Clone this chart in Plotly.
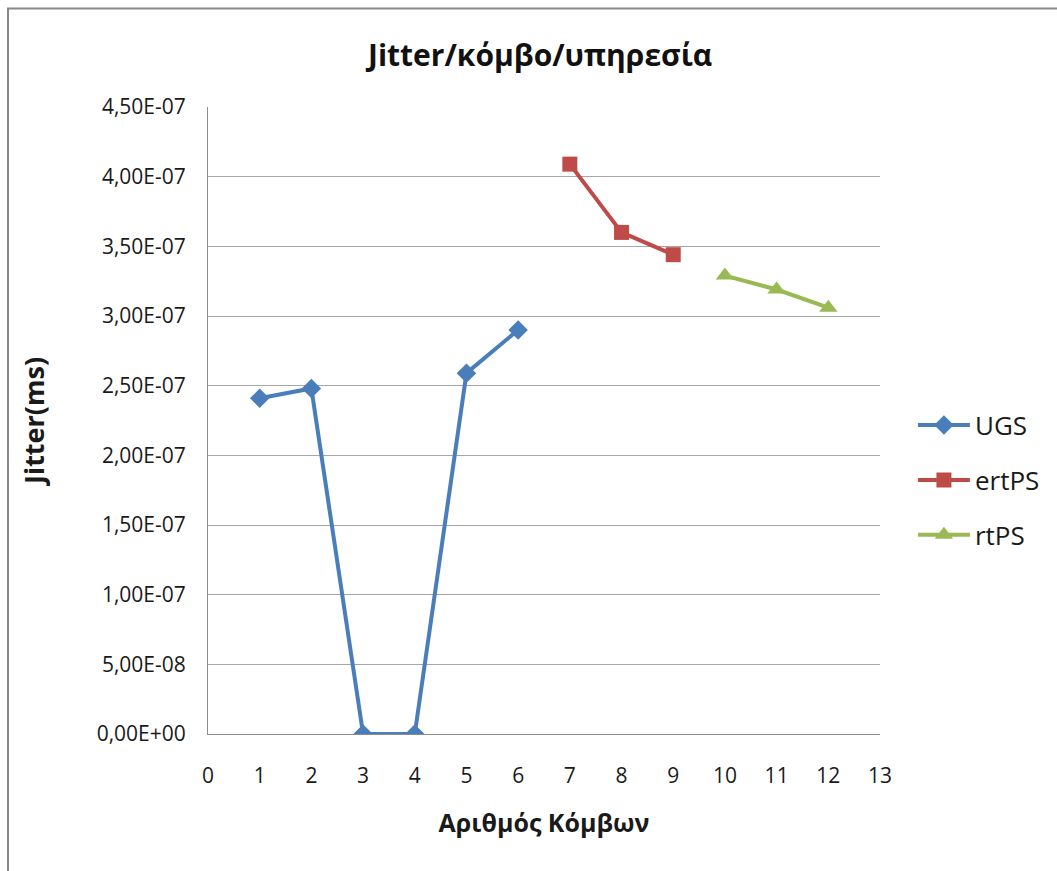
import plotly.graph_objects as go

ugs_x = [1, 2, 3, 4, 5, 6]
ugs_y = [2.41e-7, 2.48e-7, 0.0, 0.0, 2.59e-7, 2.90e-7]
ertps_x = [7, 8, 9]
ertps_y = [4.09e-7, 3.60e-7, 3.44e-7]
rtps_x = [10, 11, 12]
rtps_y = [3.29e-7, 3.19e-7, 3.06e-7]

y_tickvals = [0, 0.5e-7, 1.0e-7, 1.5e-7, 2.0e-7, 2.5e-7, 3.0e-7, 3.5e-7, 4.0e-7, 4.5e-7]
y_ticktext = ["0,00E+00", "5,00E-08", "1,00E-07", "1,50E-07", "2,00E-07",
              "2,50E-07", "3,00E-07", "3,50E-07", "4,00E-07", "4,50E-07"]
x_tickvals = list(range(0, 14))

FONT = "Open Sans"

fig = go.Figure()
fig.add_trace(go.Scatter(x=ugs_x, y=ugs_y, name="UGS", mode="lines+markers",
                         line=dict(color="#4a7ebb", width=4),
                         marker=dict(symbol="diamond", size=15, color="#4a7ebb"),
                         legendgroup="a"))
fig.add_trace(go.Scatter(x=ertps_x, y=ertps_y, name="ertPS", mode="lines+markers",
                         line=dict(color="#be4b48", width=4),
                         marker=dict(symbol="square", size=15, color="#be4b48"),
                         legendgroup="b"))
fig.add_trace(go.Scatter(x=rtps_x, y=rtps_y, name="rtPS", mode="lines+markers",
                         line=dict(color="#98b954", width=4),
                         marker=dict(symbol="triangle-up", size=16, color="#98b954"),
                         legendgroup="c"))

fig.update_layout(
    width=1057, height=871,
    margin=dict(l=208, r=177, t=107, b=137),
    paper_bgcolor="white", plot_bgcolor="white",
    font=dict(family=FONT, color="#1a1a1a", size=21),
    title=dict(text="<b>Jitter/κόμβο/υπηρεσία</b>", x=0.511, xanchor="center",
               y=0.936, yanchor="middle", font=dict(size=30, color="#111")),
    xaxis=dict(range=[0, 13], tickvals=x_tickvals, showgrid=False,
               showline=True, linecolor="#8c8c8c", linewidth=1, zeroline=False,
               ticks="outside", ticklen=23, tickcolor="rgba(0,0,0,0)",
               tickfont=dict(size=21),
               title=dict(text="<b>Αριθμός Κόμβων</b>", font=dict(size=25), standoff=26)),
    yaxis=dict(range=[0, 4.5e-7], tickvals=y_tickvals, ticktext=y_ticktext,
               showgrid=True, gridcolor="#a6a6a6", gridwidth=1,
               showline=True, linecolor="#8c8c8c", linewidth=1, zeroline=False,
               ticks="outside", ticklen=17, tickcolor="rgba(0,0,0,0)",
               tickfont=dict(size=21),
               title=dict(text="<b>Jitter(ms)</b>", font=dict(size=27), standoff=44)),
    legend=dict(x=1.049, y=0.53, xanchor="left", yanchor="top",
                font=dict(size=26), tracegroupgap=18, itemwidth=52,
                bgcolor="rgba(0,0,0,0)"),
    shapes=[dict(type="rect", xref="paper", yref="paper",
                 x0=(8 - 208) / 672, x1=1.4, y0=-0.4, y1=(734 - 8.5) / 627,
                 line=dict(color="#888888", width=2), fillcolor="rgba(0,0,0,0)",
                 layer="below")],
)

fig.write_html("out.html")
